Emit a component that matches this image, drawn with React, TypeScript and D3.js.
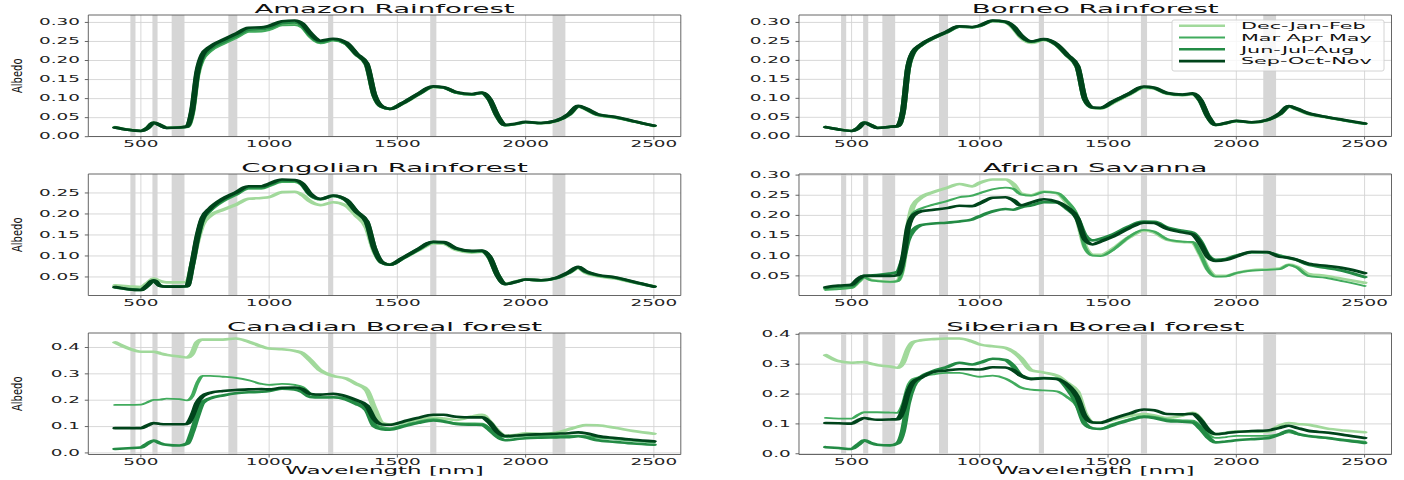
import React from 'react';
import * as d3 from 'd3';

// wavelength grid [nm]
const wavelengths = [
  400, 450, 500, 525, 550, 575, 600, 650, 680,
  700, 720, 740, 770, 820, 870, 920, 970, 1000,
  1050, 1100, 1130, 1160, 1200, 1250, 1300, 1340,
  1380, 1410, 1440, 1470, 1520, 1580, 1640, 1680,
  1730, 1790, 1830, 1860, 1890, 1920, 1960,
  2000, 2060, 2120, 2170, 2205, 2235, 2280, 2350, 2420, 2500,
];

const seasons = ['Dec-Jan-Feb', 'Mar Apr May', 'Jun-Jul-Aug', 'Sep-Oct-Nov'];
const seasonColors = ['#a1d99b', '#41ab5d', '#238b45', '#00441b'];
const seasonWidths = [2.6, 1.8, 2.6, 2.6];

// MODIS bands shaded in grey
const modisBands: [number, number][] = [
  [459, 479], [545, 565], [620, 670], [841, 876], [1230, 1250], [1628, 1652], [2105, 2155],
];

const xTicks = [500, 1000, 1500, 2000, 2500];

// ---- Amazon Rainforest ----
const amazonDJF = [
  .025, .019, .016, .023, .037, .031, .024, .025, .026,
  .062, .160, .205, .227, .246, .262, .278, .279, .283,
  .295, .296, .289, .265, .247, .254, .244, .216,
  .189, .108, .078, .073, .087, .110, .130, .129,
  .116, .111, .115, .097, .054, .030, .033,
  .038, .035, .041, .058, .079, .072, .057, .050, .040, .028,
];
const amazonMAM = [
  .024, .018, .015, .022, .036, .030, .023, .024, .026,
  .060, .158, .200, .224, .243, .259, .275, .276, .280,
  .292, .293, .286, .262, .245, .252, .243, .216,
  .189, .108, .078, .072, .087, .110, .130, .128,
  .115, .110, .114, .096, .053, .030, .033,
  .038, .035, .041, .058, .079, .072, .057, .050, .040, .028,
];
const amazonJJA = [
  .024, .018, .015, .022, .036, .030, .023, .024, .026,
  .066, .165, .210, .231, .249, .265, .281, .282, .286,
  .298, .300, .292, .268, .249, .255, .245, .217,
  .190, .109, .078, .073, .088, .111, .131, .129,
  .116, .111, .115, .097, .054, .030, .033,
  .038, .036, .042, .059, .080, .073, .058, .051, .040, .029,
];
const amazonSON = [
  .024, .018, .015, .022, .037, .030, .023, .024, .027,
  .070, .170, .215, .236, .254, .270, .286, .287, .291,
  .303, .305, .296, .272, .252, .257, .247, .218,
  .192, .110, .079, .073, .088, .112, .132, .130,
  .117, .112, .116, .098, .055, .031, .034,
  .039, .036, .042, .060, .081, .074, .059, .052, .041, .029,
];

// ---- Borneo Rainforest ----
const borneoDJF = [
  .024, .018, .015, .021, .036, .030, .023, .025, .027,
  .064, .178, .220, .240, .259, .274, .289, .287, .291,
  .303, .300, .286, .261, .246, .253, .240, .213,
  .183, .097, .075, .073, .089, .109, .128, .126,
  .112, .108, .111, .093, .051, .030, .034,
  .040, .036, .042, .058, .078, .071, .059, .050, .042, .033,
];
const borneoMAM = [
  .023, .018, .014, .021, .035, .029, .022, .024, .026,
  .063, .178, .220, .240, .259, .274, .289, .287, .291,
  .304, .301, .288, .263, .248, .254, .240, .214,
  .184, .097, .075, .074, .090, .110, .129, .127,
  .113, .109, .112, .094, .051, .030, .034,
  .040, .036, .042, .059, .079, .072, .060, .050, .042, .033,
];
const borneoJJA = [
  .024, .018, .014, .021, .036, .029, .022, .025, .027,
  .064, .179, .221, .240, .259, .274, .289, .287, .291,
  .304, .301, .289, .265, .249, .255, .241, .214,
  .184, .097, .075, .074, .091, .111, .130, .127,
  .113, .109, .112, .094, .051, .030, .035,
  .040, .037, .043, .059, .079, .072, .060, .051, .042, .033,
];
const borneoSON = [
  .024, .018, .014, .021, .036, .029, .022, .025, .027,
  .065, .180, .222, .241, .260, .275, .290, .288, .292,
  .305, .302, .290, .266, .250, .256, .242, .215,
  .185, .098, .076, .075, .092, .112, .131, .128,
  .114, .110, .113, .095, .052, .030, .035,
  .041, .037, .043, .060, .080, .073, .061, .051, .043, .034,
];

// ---- Congolian Rainforest ----
const congoDJF = [
  .030, .028, .026, .035, .046, .040, .037, .037, .038,
  .080, .135, .175, .196, .210, .222, .236, .238, .240,
  .252, .253, .245, .230, .221, .228, .220, .196,
  .168, .112, .084, .080, .094, .113, .130, .129,
  .114, .108, .110, .095, .055, .034, .039,
  .044, .042, .047, .060, .071, .060, .052, .046, .037, .028,
];
const congoMAM = [
  .026, .022, .020, .030, .042, .030, .028, .028, .029,
  .076, .140, .184, .207, .230, .245, .260, .260, .266,
  .276, .276, .268, .245, .234, .242, .232, .204,
  .180, .116, .084, .078, .094, .114, .132, .131,
  .116, .110, .111, .095, .054, .033, .038,
  .043, .041, .047, .061, .073, .062, .054, .048, .038, .027,
];
const congoJJA = [
  .025, .021, .019, .029, .041, .029, .027, .027, .028,
  .078, .142, .187, .210, .233, .248, .263, .263, .269,
  .279, .279, .270, .246, .235, .243, .233, .205,
  .181, .117, .084, .079, .094, .115, .133, .132,
  .117, .111, .112, .096, .055, .033, .038,
  .044, .042, .047, .061, .073, .062, .054, .048, .038, .027,
];
const congoSON = [
  .026, .021, .019, .030, .042, .029, .027, .027, .028,
  .080, .145, .190, .213, .236, .251, .266, .266, .272,
  .282, .281, .272, .248, .236, .244, .234, .206,
  .182, .118, .085, .079, .095, .116, .134, .133,
  .118, .112, .113, .097, .055, .033, .038,
  .044, .042, .048, .062, .074, .063, .055, .049, .039, .027,
];

// ---- African Savanna ----
const savannaDJF = [
  .017, .019, .021, .035, .046, .040, .038, .035, .038,
  .075, .170, .224, .244, .258, .268, .278, .272, .281,
  .289, .289, .278, .254, .250, .259, .255, .232,
  .193, .123, .102, .102, .117, .145, .162, .158,
  .140, .134, .133, .104, .066, .050, .050,
  .057, .064, .066, .068, .078, .073, .055, .050, .042, .033,
];
const savannaMAM = [
  .015, .017, .020, .034, .046, .039, .037, .035, .037,
  .070, .160, .205, .217, .227, .235, .245, .249, .255,
  .265, .269, .266, .252, .249, .258, .256, .235,
  .197, .120, .100, .099, .115, .146, .164, .160,
  .141, .135, .134, .104, .064, .048, .049,
  .057, .063, .065, .067, .077, .071, .050, .045, .036, .025,
];
const savannaJJA = [
  .020, .023, .025, .040, .050, .051, .052, .056, .060,
  .090, .140, .162, .176, .180, .182, .185, .190, .198,
  .210, .216, .214, .220, .225, .233, .232, .217,
  .193, .150, .138, .142, .153, .172, .185, .184,
  .170, .162, .157, .135, .100, .090, .092,
  .100, .108, .108, .100, .094, .090, .078, .070, .062, .047,
];
const savannaSON = [
  .022, .026, .028, .042, .050, .050, .050, .050, .052,
  .090, .170, .200, .210, .214, .218, .224, .223, .230,
  .244, .245, .238, .225, .232, .240, .234, .220,
  .193, .140, .128, .135, .148, .168, .182, .181,
  .167, .158, .153, .130, .097, .087, .090,
  .098, .110, .109, .097, .095, .090, .080, .075, .069, .057,
];

// ---- Canadian Boreal forest ----
const canadaDJF = [
  .419, .397, .384, .384, .384, .378, .372, .366, .362,
  .377, .420, .430, .430, .430, .434, .422, .404, .396,
  .393, .387, .378, .352, .313, .292, .282, .262,
  .239, .170, .113, .108, .114, .126, .134, .131,
  .125, .138, .145, .118, .085, .066, .068,
  .074, .073, .077, .090, .100, .106, .105, .095, .083, .073,
];
const canadaMAM = [
  .182, .182, .183, .192, .201, .202, .206, .204, .199,
  .215, .265, .292, .292, .289, .285, .276, .262, .258,
  .262, .258, .250, .225, .212, .211, .208, .190,
  .164, .110, .098, .094, .105, .118, .128, .122,
  .113, .112, .111, .092, .070, .060, .062,
  .065, .065, .065, .065, .066, .064, .058, .052, .046, .040,
];
const canadaJJA = [
  .015, .018, .021, .035, .047, .037, .031, .028, .035,
  .080, .140, .190, .207, .218, .226, .230, .232, .235,
  .244, .241, .232, .212, .210, .211, .203, .186,
  .163, .102, .090, .088, .100, .114, .123, .119,
  .110, .107, .106, .088, .062, .048, .052,
  .056, .058, .059, .060, .063, .059, .048, .042, .036, .031,
];
const canadaSON = [
  .094, .094, .094, .104, .113, .110, .109, .109, .110,
  .140, .190, .215, .228, .235, .239, .241, .242, .241,
  .247, .248, .242, .224, .221, .224, .215, .200,
  .180, .128, .108, .107, .118, .133, .145, .145,
  .137, .135, .135, .115, .080, .064, .066,
  .069, .071, .073, .075, .078, .075, .064, .057, .050, .044,
];

// ---- Siberian Boreal forest ----
const siberiaDJF = [
  .330, .310, .305, .306, .307, .302, .297, .292, .288,
  .305, .350, .374, .380, .384, .386, .386, .376, .366,
  .360, .355, .342, .320, .280, .272, .262, .237,
  .208, .135, .105, .105, .114, .126, .133, .128,
  .120, .128, .137, .116, .080, .065, .070,
  .075, .074, .074, .095, .103, .100, .097, .085, .078, .072,
];
const siberiaMAM = [
  .120, .118, .118, .130, .139, .139, .139, .138, .137,
  .165, .225, .250, .258, .266, .271, .271, .262, .258,
  .262, .252, .238, .222, .215, .212, .209, .190,
  .158, .100, .085, .084, .100, .115, .127, .124,
  .115, .112, .111, .092, .065, .053, .056,
  .060, .060, .060, .066, .072, .066, .058, .052, .047, .041,
];
const siberiaJJA = [
  .022, .019, .016, .030, .045, .036, .030, .028, .035,
  .075, .170, .225, .256, .277, .290, .305, .299, .305,
  .318, .314, .294, .262, .252, .254, .252, .222,
  .165, .100, .085, .083, .096, .112, .123, .120,
  .110, .107, .105, .085, .055, .038, .041,
  .045, .049, .052, .065, .078, .068, .060, .054, .045, .036,
];
const siberiaSON = [
  .103, .102, .101, .112, .120, .116, .114, .115, .116,
  .145, .205, .240, .255, .274, .279, .283, .283, .282,
  .290, .289, .280, .262, .250, .253, .250, .232,
  .190, .125, .105, .104, .118, .134, .148, .146,
  .133, .132, .134, .113, .080, .066, .069,
  .073, .076, .078, .087, .094, .087, .077, .071, .063, .053,
];

const titles = [
  'Amazon Rainforest', 'Borneo Rainforest',
  'Congolian Rainforest', 'African Savanna',
  'Canadian Boreal forest', 'Siberian Boreal forest',
];
const panelSeries = [
  [amazonDJF, amazonMAM, amazonJJA, amazonSON],
  [borneoDJF, borneoMAM, borneoJJA, borneoSON],
  [congoDJF, congoMAM, congoJJA, congoSON],
  [savannaDJF, savannaMAM, savannaJJA, savannaSON],
  [canadaDJF, canadaMAM, canadaJJA, canadaSON],
  [siberiaDJF, siberiaMAM, siberiaJJA, siberiaSON],
];
const panelYTicks = [
  [0, 0.05, 0.1, 0.15, 0.2, 0.25, 0.3],
  [0, 0.05, 0.1, 0.15, 0.2, 0.25, 0.3],
  [0.05, 0.1, 0.15, 0.2, 0.25],
  [0.05, 0.1, 0.15, 0.2, 0.25, 0.3],
  [0, 0.1, 0.2, 0.3, 0.4],
  [0, 0.1, 0.2, 0.3, 0.4],
];

// the source figure is stretched horizontally, so everything is drawn
// in a narrow coordinate system and scaled up in x
const SX = 2.3;
const W = 1404;
const H = 480;
const COL_LEFT = [88.3, 799];
const PANEL_W = 592.5;
const ROW_TOP = [15, 174, 333];
const PANEL_H = 121.5;
const FONT = '"DejaVu Sans", Verdana, sans-serif';

const Panel: React.FC<{ idx: number }> = ({ idx }) => {
  const col = idx % 2;
  const row = Math.floor(idx / 2);
  const left = COL_LEFT[col];
  const top = ROW_TOP[row];
  const bottom = top + PANEL_H;
  const series = panelSeries[idx];
  const yTicks = panelYTicks[idx];

  const all = series.flat();
  const lo = d3.min(all) as number;
  const hi = d3.max(all) as number;
  const pad = (hi - lo) * 0.05;
  const [wMin, wMax] = d3.extent(wavelengths) as [number, number];
  const wPad = (wMax - wMin) * 0.05;

  const x = d3.scaleLinear().domain([wMin - wPad, wMax + wPad]).range([left / SX, (left + PANEL_W) / SX]);
  const y = d3.scaleLinear().domain([lo - pad, hi + pad]).range([bottom, top]);
  const fmt = d3.format(row === 2 ? '.1f' : '.2f');

  const line = d3.line<number>()
    .x((_, i) => x(wavelengths[i]))
    .y(d => y(d))
    .curve(d3.curveMonotoneX);

  const x0 = left / SX;
  const x1 = (left + PANEL_W) / SX;

  return (
    <g>
      {/* grid */}
      {xTicks.map(t => (
        <line key={'gx' + t} x1={x(t)} x2={x(t)} y1={top} y2={bottom}
          stroke="#d4d4d4" strokeWidth={0.9} vectorEffect="non-scaling-stroke" />
      ))}
      {yTicks.map(t => (
        <line key={'gy' + t} x1={x0} x2={x1} y1={y(t)} y2={y(t)}
          stroke="#d4d4d4" strokeWidth={0.9} vectorEffect="non-scaling-stroke" />
      ))}
      {/* MODIS bands */}
      {modisBands.map(([a, b]) => (
        <rect key={'b' + a} x={x(a)} y={top} width={x(b) - x(a)} height={PANEL_H} fill="#d6d6d6" />
      ))}
      {/* spectra */}
      {series.map((s, i) => (
        <path key={'s' + i} d={line(s) || ''} fill="none" stroke={seasonColors[i]}
          strokeWidth={seasonWidths[i]} strokeLinejoin="round" strokeLinecap="round" />
      ))}
      {/* spines */}
      <rect x={x0} y={top} width={x1 - x0} height={PANEL_H} fill="none"
        stroke="#555" strokeWidth={0.9} vectorEffect="non-scaling-stroke" />
      {/* y ticks */}
      {yTicks.map(t => (
        <g key={'yt' + t}>
          <line x1={x0 - 3.5 / SX} x2={x0} y1={y(t)} y2={y(t)} stroke="#555"
            strokeWidth={0.9} vectorEffect="non-scaling-stroke" />
          <text x={(left - 8.3) / SX} y={y(t)} dy="0.35em" textAnchor="end"
            fontSize={8} fontFamily={FONT} fill="#222">{fmt(t)}</text>
        </g>
      ))}
      {/* x ticks */}
      {xTicks.map(t => (
        <g key={'xt' + t}>
          <line x1={x(t)} x2={x(t)} y1={bottom} y2={bottom + 3} stroke="#555"
            strokeWidth={0.9} vectorEffect="non-scaling-stroke" />
          <text x={x(t)} y={bottom + 10.7} textAnchor="middle"
            fontSize={8} fontFamily={FONT} fill="#222">{t}</text>
        </g>
      ))}
      <text x={(left + PANEL_W / 2) / SX} y={top - 2.4} textAnchor="middle"
        fontSize={12} fontFamily={FONT} fill="#111">{titles[idx]}</text>
      {row === 2 && (
        <text x={(left + PANEL_W / 2) / SX} y={bottom + 19.5} textAnchor="middle"
          fontSize={10} fontFamily={FONT} fill="#111">Wavelength [nm]</text>
      )}
    </g>
  );
};

const Legend: React.FC = () => {
  const bx0 = 1172;
  const bx1 = 1384;
  const by0 = 20;
  const by1 = 71;
  const rowY = [25.7, 37.5, 49.3, 61.1];
  return (
    <g>
      <rect x={bx0 / SX} y={by0} width={(bx1 - bx0) / SX} height={by1 - by0}
        rx={2 / SX} ry={2} fill="#fff" fillOpacity={0.8}
        stroke="#cfcfcf" strokeWidth={0.9} vectorEffect="non-scaling-stroke" />
      {seasons.map((s, i) => (
        <g key={s}>
          <line x1={1179 / SX} x2={1225 / SX} y1={rowY[i]} y2={rowY[i]}
            stroke={seasonColors[i]} strokeWidth={seasonWidths[i]} />
          <text x={1241 / SX} y={rowY[i]} dy="0.36em" fontSize={9}
            fontFamily={FONT} fill="#111">{s}</text>
        </g>
      ))}
    </g>
  );
};

export default function App() {
  return (
    <svg width={W} height={H} style={{ position: 'absolute', left: 0, top: 0, background: '#fff' }}>
      <rect width={W} height={H} fill="#fff" />
      <g transform={`scale(${SX},1)`}>
        {titles.map((_, i) => <Panel key={i} idx={i} />)}
        <Legend />
      </g>
      {ROW_TOP.map(t => (
        <text key={'al' + t}
          transform={`translate(17.5, ${t + PANEL_H / 2}) scale(1.4,1) rotate(-90)`}
          textAnchor="middle" dy="0.35em" fontSize={10} fontFamily={FONT} fill="#111">
          Albedo
        </text>
      ))}
    </svg>
  );
}
